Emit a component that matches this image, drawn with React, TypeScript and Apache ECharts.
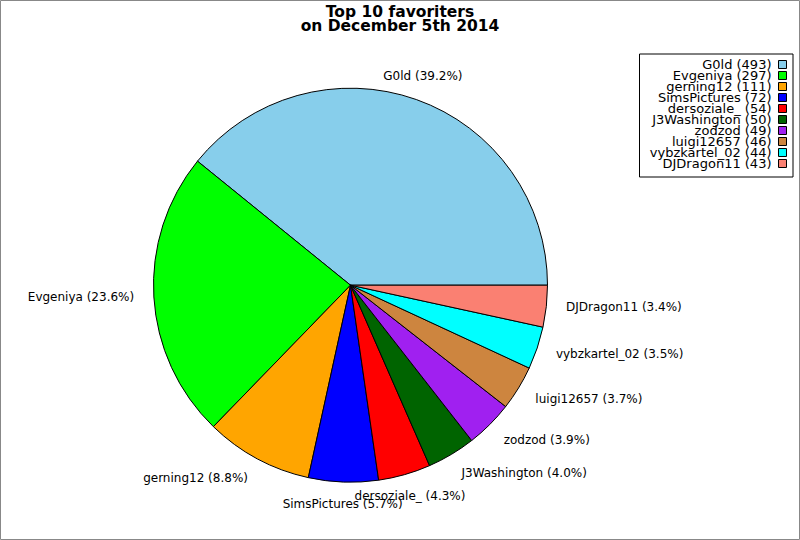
import React, { useEffect, useRef } from 'react';
import * as echarts from 'echarts';

const names = ['G0ld', 'Evgeniya', 'gerning12', 'SimsPictures', 'dersoziale_', 'J3Washington', 'zodzod', 'luigi12657', 'vybzkartel_02', 'DJDragon11'];
const values = [493, 297, 111, 72, 54, 50, 49, 46, 44, 43];
const colors = ['#87CEEB', '#00FF00', '#FFA500', '#0000FF', '#FF0000', '#006400', '#A020F0', '#CD853F', '#00FFFF', '#FA8072'];
const titleText = 'Top 10 favoriters\non December 5th 2014';

const CX = 350.5;
const CY = 285.2;
const R = 197;
const FONT = 'DejaVu Sans';

export default function App() {
  const ref = useRef<HTMLDivElement>(null);
  useEffect(() => {
    if (!ref.current) return;
    const chart = echarts.init(ref.current, undefined, { renderer: 'svg' });
    const total = values.reduce((a, b) => a + b, 0);
    const pct = (v: number) => ((v / total) * 100).toFixed(1);
    const mids: number[] = [];
    let cum = 0;
    values.forEach((v) => {
      mids.push(((cum + v / 2) / total) * Math.PI * 2);
      cum += v;
    });
    chart.setOption({
      animation: false,
      backgroundColor: '#ffffff',
      title: {
        text: titleText,
        left: 'center',
        top: 5,
        padding: 0,
        textStyle: { fontFamily: FONT, fontSize: 15.5, fontWeight: 'bold', color: '#000', lineHeight: 14 },
      },
      legend: {
        orient: 'vertical',
        right: 7,
        top: 54,
        align: 'right',
        icon: 'rect',
        itemWidth: 8,
        itemHeight: 8,
        itemGap: -2,
        selectedMode: false,
        borderColor: '#000',
        borderWidth: 1,
        borderRadius: 0,
        padding: [4, 6, 7, 10],
        data: names,
        formatter: (name: string) => `${name} (${values[names.indexOf(name)]})`,
        itemStyle: { borderColor: '#000', borderWidth: 1 },
        textStyle: {
          fontFamily: FONT,
          fontSize: 13,
          color: '#000',
          lineHeight: 11,
          width: 122,
          padding: [0, 2, 0, 0],
        },
      },
      graphic: [
        {
          type: 'rect',
          shape: { x: 0.5, y: 0.5, width: 799, height: 539 },
          style: { fill: 'none', stroke: '#888888', lineWidth: 1 },
          silent: true,
        },
      ],
      series: [
        {
          type: 'pie',
          center: [CX, CY],
          radius: R,
          startAngle: 0,
          clockwise: false,
          avoidLabelOverlap: false,
          silent: true,
          emphasis: { disabled: true },
          itemStyle: { borderColor: '#000', borderWidth: 1 },
          label: {
            show: true,
            position: 'outside',
            fontFamily: FONT,
            fontSize: 12,
            color: '#000',
            formatter: (p: any) => `${p.name} (${pct(values[p.dataIndex])}%)`,
          },
          labelLine: { show: false },
          labelLayout: (params: any) => {
            const a = mids[params.dataIndex];
            const c = Math.cos(a);
            const s = Math.sin(a);
            const x = CX + 1.1 * R * c;
            const y = CY - 1.12 * R * s - 1.5;
            const align = Math.abs(c) < 0.4 ? 'center' : c > 0 ? 'left' : 'right';
            return { x, y, align, verticalAlign: 'middle' };
          },
          data: names.map((n, i) => ({ name: n, value: values[i], itemStyle: { color: colors[i] } })),
        },
      ],
    });
    return () => chart.dispose();
  }, []);
  return (
    <div
      ref={ref}
      style={{ position: 'fixed', left: 0, top: 0, width: 800, height: 540, background: '#fff' }}
    />
  );
}
